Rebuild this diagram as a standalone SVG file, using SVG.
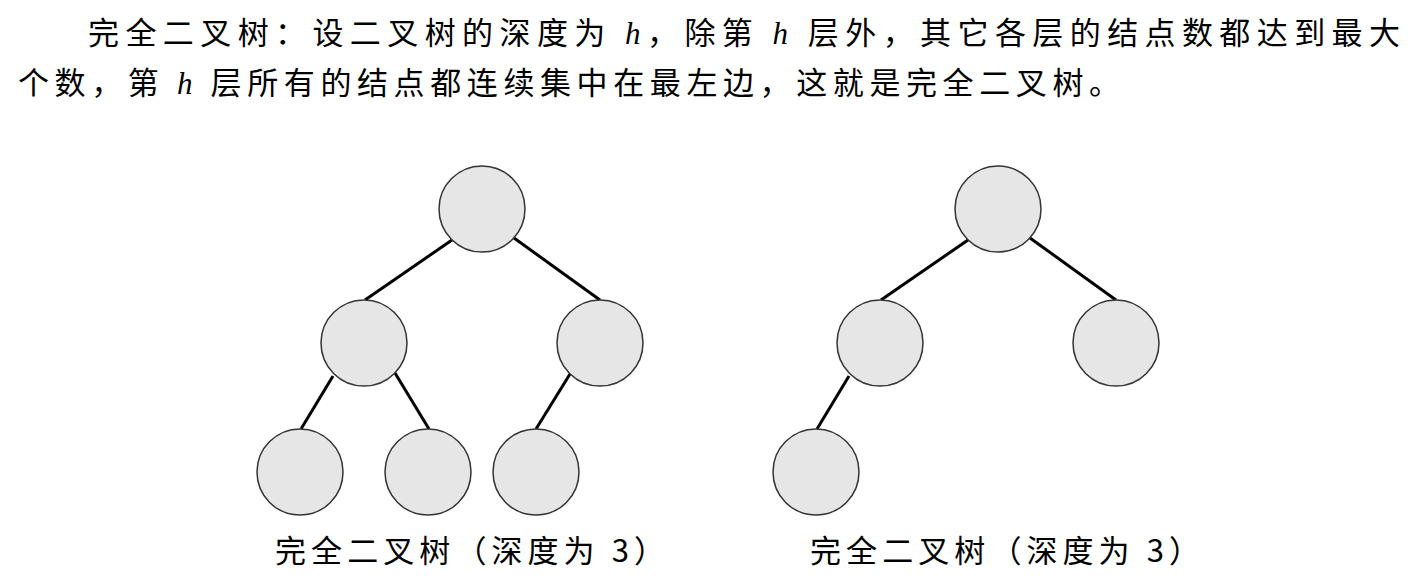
<svg xmlns="http://www.w3.org/2000/svg" width="1425" height="584" viewBox="0 0 1425 584">
<style>
.t{font-family:"Noto Sans CJK SC","Liberation Serif",serif;font-size:31px;fill:#000}
.h{font-family:"Liberation Serif",serif;font-style:italic}
.n{fill:#e6e6e6;stroke:#333;stroke-width:1.5}
.e{stroke:#000;stroke-width:3}
</style>
<rect width="1425" height="584" fill="#fff"/>
<text class="t" x="88" y="44" textLength="1312" lengthAdjust="spacing">完全二叉树：设二叉树的深度为 <tspan class="h">h</tspan>，除第 <tspan class="h">h</tspan> 层外，其它各层的结点数都达到最大</text>
<text class="t" x="18" y="94" textLength="1102" lengthAdjust="spacing">个数，第 <tspan class="h">h</tspan> 层所有的结点都连续集中在最左边，这就是完全二叉树。</text>
<g id="connectors">
<line class="e" x1="452" y1="240" x2="365" y2="300"/>
<line class="e" x1="514" y1="238" x2="600" y2="300"/>
<line class="e" x1="333" y1="376" x2="301" y2="429"/>
<line class="e" x1="395" y1="373" x2="429" y2="429"/>
<line class="e" x1="570" y1="374" x2="536" y2="429"/>
<line class="e" x1="968" y1="240" x2="881" y2="300"/>
<line class="e" x1="1030" y1="238" x2="1116" y2="300"/>
<line class="e" x1="849" y1="376" x2="817" y2="429"/>
</g>
<g id="a1"><circle class="n" cx="482" cy="209" r="43"/></g>
<g id="a2"><circle class="n" cx="364" cy="343" r="43"/></g>
<g id="a3"><circle class="n" cx="600" cy="343" r="43"/></g>
<g id="a4"><circle class="n" cx="300" cy="472" r="43"/></g>
<g id="a5"><circle class="n" cx="428" cy="472" r="43"/></g>
<g id="a6"><circle class="n" cx="536" cy="472" r="43"/></g>
<g id="b1"><circle class="n" cx="998" cy="209" r="43"/></g>
<g id="b2"><circle class="n" cx="880" cy="343" r="43"/></g>
<g id="b3"><circle class="n" cx="1116" cy="343" r="43"/></g>
<g id="b4"><circle class="n" cx="816" cy="472" r="43"/></g>
<text class="t" x="275" y="562" textLength="390" lengthAdjust="spacing">完全二叉树（深度为 3）</text>
<text class="t" x="810" y="562" textLength="390" lengthAdjust="spacing">完全二叉树（深度为 3）</text>
</svg>
